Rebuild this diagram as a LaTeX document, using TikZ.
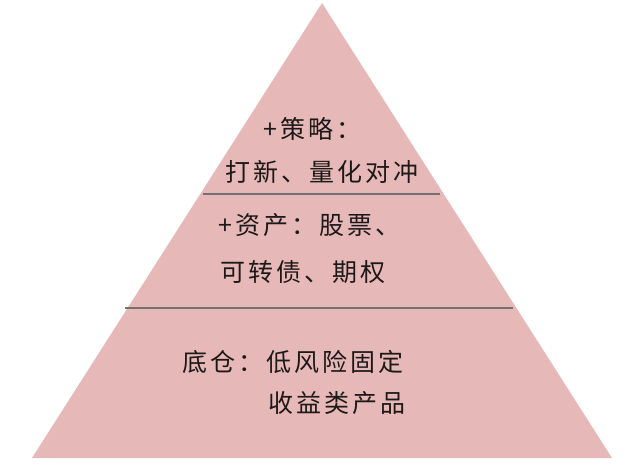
\documentclass[tikz,border=0pt]{standalone}
\usepackage{fontspec}
\newfontfamily\cjk[LetterSpace=12]{Noto Sans CJK SC}
\definecolor{pyrfill}{RGB}{230,185,184}
\definecolor{sepline}{RGB}{118,113,113}
\definecolor{txt}{RGB}{30,25,25}
\begin{document}
\begin{tikzpicture}[x=1pt,y=-1pt,
  lbl/.style={anchor=west,inner sep=0pt,text=txt,font=\cjk\fontsize{25}{30}\selectfont},
  sep/.style={draw=sepline,line width=2.4pt}]
\useasboundingbox (0,0) rectangle (640,464);
\fill[white] (0,0) rectangle (640,464);
\coordinate (apex) at (322,3);
\coordinate (bl) at (32,458);
\coordinate (br) at (612,458);
\fill[pyrfill] (apex) -- (bl) -- (br) -- cycle;
\coordinate (s1l) at (203,194);
\coordinate (s1r) at (440,194);
\coordinate (s2l) at (125,308);
\coordinate (s2r) at (513,308);
\draw[sep] (s1l) -- (s1r);
\draw[sep] (s2l) -- (s2r);
\node[lbl] (t1) at (263,129) {+策略：};
\node[lbl] (t2) at (225,172) {打新、量化对冲};
\node[lbl] (t3) at (218,225) {+资产：股票、};
\node[lbl] (t4) at (220,272) {可转债、期权};
\node[lbl] (t5) at (182,362) {底仓：低风险固定};
\node[lbl] (t6) at (268,403) {收益类产品};
\end{tikzpicture}
\end{document}
